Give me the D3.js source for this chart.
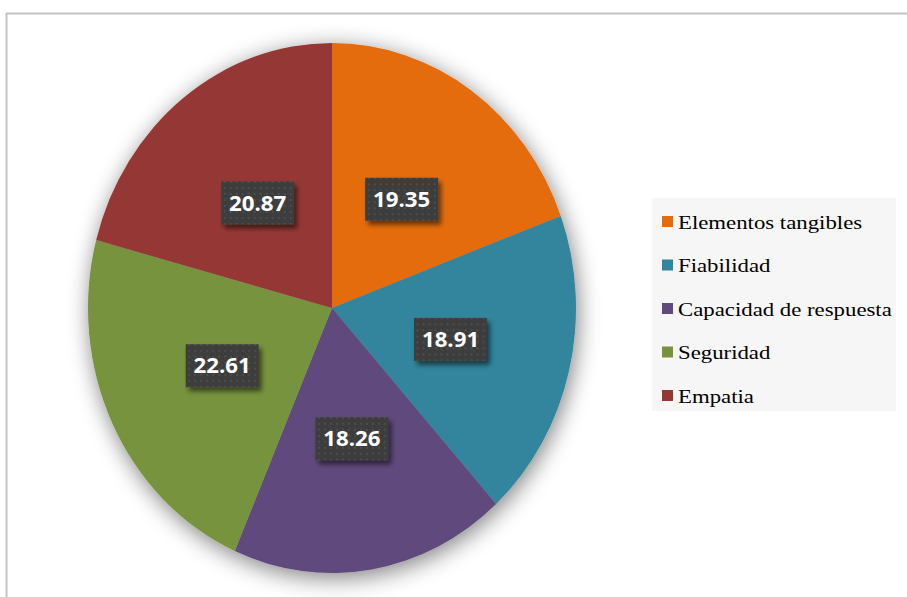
<!DOCTYPE html>
<html>
<head>
<meta charset="utf-8">
<script src="https://cdn.jsdelivr.net/npm/d3@7"></script>
<style>
  html, body { margin: 0; padding: 0; background: #ffffff; }
  svg { display: block; }
</style>
</head>
<body>
<svg id="chart" width="907" height="597"></svg>
<script>
// Service-quality dimensions and their shares (%)
const categories = ["Elementos tangibles", "Fiabilidad", "Capacidad de respuesta", "Seguridad", "Empatia"];
const values = [19.35, 18.91, 18.26, 22.61, 20.87];
const colors = ["#E46C0A", "#31859C", "#604A7B", "#77933C", "#953735"];

const svg = d3.select("#chart");
const defs = svg.append("defs");

// soft drop shadow under the pie
const sh = defs.append("filter").attr("id", "pieShadow")
  .attr("x", "-20%").attr("y", "-20%").attr("width", "140%").attr("height", "140%");
sh.append("feGaussianBlur").attr("in", "SourceAlpha").attr("stdDeviation", 11).attr("result", "b");
sh.append("feOffset").attr("in", "b").attr("dx", 2).attr("dy", 5).attr("result", "o");
sh.append("feComponentTransfer").attr("in", "o").attr("result", "s")
  .append("feFuncA").attr("type", "linear").attr("slope", 0.5);
const shm = sh.append("feMerge");
shm.append("feMergeNode").attr("in", "s");
shm.append("feMergeNode").attr("in", "SourceGraphic");

// small shadow for the value boxes
const lsh = defs.append("filter").attr("id", "lblShadow")
  .attr("x", "-20%").attr("y", "-30%").attr("width", "150%").attr("height", "170%");
lsh.append("feGaussianBlur").attr("in", "SourceAlpha").attr("stdDeviation", 2.5).attr("result", "b");
lsh.append("feOffset").attr("in", "b").attr("dx", 3).attr("dy", 4).attr("result", "o");
lsh.append("feComponentTransfer").attr("in", "o").attr("result", "s")
  .append("feFuncA").attr("type", "linear").attr("slope", 0.55);
const lm = lsh.append("feMerge");
lm.append("feMergeNode").attr("in", "s");
lm.append("feMergeNode").attr("in", "SourceGraphic");

// dotted dark fill for the value boxes
const pat = defs.append("pattern").attr("id", "dots")
  .attr("patternUnits", "userSpaceOnUse").attr("width", 6).attr("height", 6);
pat.append("rect").attr("width", 6).attr("height", 6).attr("fill", "#3d3d3d");
pat.append("rect").attr("x", 2).attr("y", 2).attr("width", 2).attr("height", 2).attr("fill", "#4d4d4d");

// outer chart frame
svg.append("line").attr("x1", 6.5).attr("y1", 13).attr("x2", 6.5).attr("y2", 597)
  .attr("stroke", "#c3c3c3").attr("stroke-width", 2);
svg.append("line").attr("x1", 6).attr("y1", 13.5).attr("x2", 907).attr("y2", 13.5)
  .attr("stroke", "#c3c3c3").attr("stroke-width", 2);

// pie geometry (slightly taller than wide)
const cx = 332, cy = 308, rx = 244, ry = 265;

const pie = d3.pie().sort(null).value(d => d.v);
const arcs = pie(values.map((v, i) => ({ v, i })));
const arc = d3.arc().innerRadius(0).outerRadius(rx);
const labelArc = d3.arc().innerRadius(rx * 0.5).outerRadius(rx * 0.5);

const g = svg.append("g").attr("transform", `translate(${cx},${cy}) scale(1,${ry / rx})`);
g.append("g").attr("filter", "url(#pieShadow)")
  .selectAll("path").data(arcs).join("path")
  .attr("d", arc)
  .attr("fill", d => colors[d.data.i]);

// value labels
const lg = svg.append("g").attr("transform", `translate(${cx},${cy})`);
const boxW = 73, boxH = 43;
const lbl = lg.selectAll("g.lbl").data(arcs).join("g").attr("class", "lbl")
  .attr("transform", d => {
    const [x, y] = labelArc.centroid(d);
    return `translate(${x},${y * ry / rx})`;
  });
lbl.append("rect")
  .attr("x", -boxW / 2).attr("y", -boxH / 2)
  .attr("width", boxW).attr("height", boxH)
  .attr("fill", "url(#dots)")
  .attr("filter", "url(#lblShadow)");
lbl.append("text")
  .attr("text-anchor", "middle").attr("dy", "0.36em")
  .attr("transform", "scale(1.06,1)")
  .attr("font-family", "'Open Sans', 'Liberation Sans', sans-serif")
  .attr("font-weight", "bold").attr("font-size", 21)
  .attr("fill", "#ffffff")
  .text(d => d.data.v.toFixed(2));

// legend
const legX = 652, legY = 198, legW = 244, legH = 213;
const leg = svg.append("g");
leg.append("rect").attr("x", legX).attr("y", legY).attr("width", legW).attr("height", legH)
  .attr("fill", "#f6f6f6");
const rowY = d3.scalePoint().domain(categories).range([222, 396]);
const items = leg.selectAll("g.item").data(categories).join("g").attr("class", "item")
  .attr("transform", d => `translate(0,${rowY(d)})`);
items.append("rect").attr("x", 662).attr("y", -6).attr("width", 11).attr("height", 11)
  .attr("fill", (d, i) => colors[i]);
items.append("text")
  .attr("transform", "translate(678,0) scale(1.2,1)")
  .attr("dy", "0.35em")
  .attr("font-family", "'Liberation Serif', 'Times New Roman', serif")
  .attr("font-size", 19).attr("fill", "#000000")
  .text(d => d);
</script>
</body>
</html>
